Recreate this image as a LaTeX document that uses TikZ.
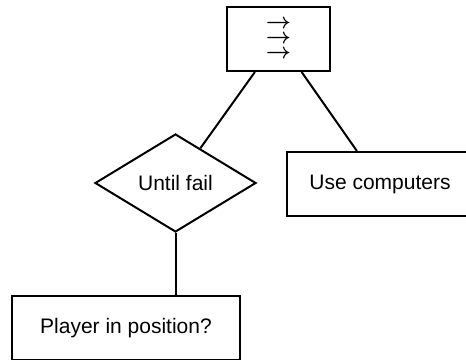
\documentclass[tikz,border=0pt]{standalone}
\usepackage{fontspec}
\setmainfont{Liberation Sans}
\usetikzlibrary{positioning, shapes.geometric}
\tikzset{
  fnode/.style={draw, line width=1pt, align=center, font=\fontsize{10.5}{12}\selectfont, inner sep=2pt},
  blk/.style={fnode, rectangle, minimum height=32pt},
  cond/.style={fnode, diamond, minimum width=80.5pt, minimum height=49pt, inner sep=0pt},
  link/.style={line width=1pt},
}
\begin{document}
\begin{tikzpicture}[on grid]
\useasboundingbox (0,0) rectangle (233pt,179.5pt);
\clip (0,0) rectangle (233pt,179.5pt);
\node[blk, minimum width=51.5pt, font=\fontsize{11}{7.5}\selectfont\boldmath] (seq) at (139.25pt,160pt) {$\rightarrow$\\$\rightarrow$\\$\rightarrow$};
\node[cond, below left=72pt and 51.5pt of seq] (until) {Until fail};
\node[blk, minimum width=93pt, below right=72.5pt and 50.75pt of seq] (use) {Use computers};
\node[blk, minimum width=114pt, below left=72.5pt and 24.75pt of until] (player) {Player in position?};
\draw[link] (seq) -- (until);
\draw[link] (seq) -- (use);
\draw[link] (until.south) -- (until.south |- player.north);
\end{tikzpicture}
\end{document}
